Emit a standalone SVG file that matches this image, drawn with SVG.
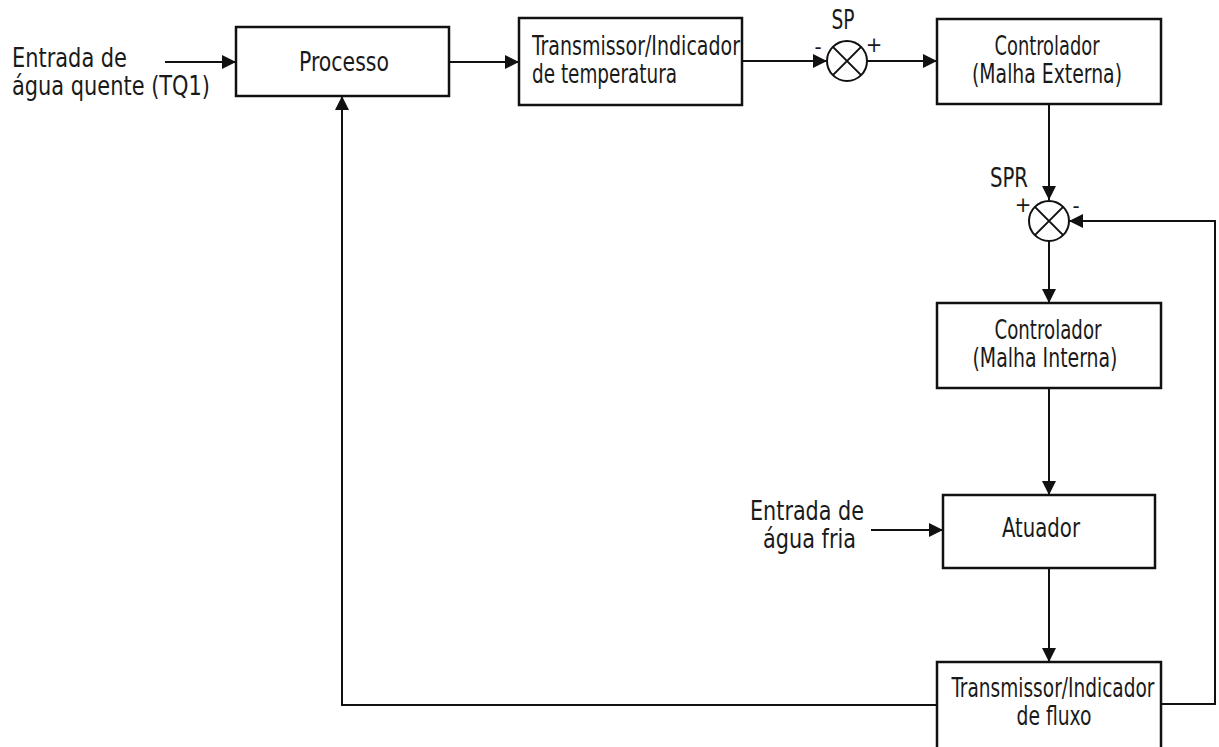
<svg xmlns="http://www.w3.org/2000/svg" width="1219" height="747" viewBox="0 0 1219 747">
  <style>
    .box { fill: #fff; stroke: #111; stroke-width: 2.5; }
    .sum { fill: #fff; stroke: #111; stroke-width: 2; }
    .wire { fill: none; stroke: #111; stroke-width: 2; }
    .arrow { fill: none; stroke: #111; stroke-width: 2; marker-end: url(#head); }
    text { font-family: "Liberation Sans Narrow", "DejaVu Sans Condensed", "Liberation Sans", sans-serif; font-size: 26px; fill: #1a1a1a; }
    .c { text-anchor: middle; }
    .sign { font-size: 22px; }
  </style>
  <defs>
    <marker id="head" viewBox="0 0 14 14" refX="14" refY="7" markerWidth="14" markerHeight="14" markerUnits="userSpaceOnUse" orient="auto">
      <path d="M0,0 L14,7 L0,14 Z" fill="#111"/>
    </marker>
  </defs>

  <!-- connectors -->
  <g id="connectors">
    <line class="arrow" x1="165" y1="62" x2="236" y2="62"/>
    <line class="arrow" x1="449" y1="62" x2="519" y2="62"/>
    <line class="arrow" x1="742" y1="61" x2="827" y2="61"/>
    <line class="arrow" x1="867" y1="61" x2="937" y2="61"/>
    <line class="arrow" x1="1049" y1="104" x2="1049" y2="200"/>
    <line class="arrow" x1="1049" y1="240" x2="1049" y2="303"/>
    <line class="arrow" x1="1049" y1="388" x2="1049" y2="495"/>
    <line class="arrow" x1="871" y1="530" x2="943" y2="530"/>
    <line class="arrow" x1="1049" y1="568" x2="1049" y2="662"/>
    <polyline class="arrow" points="1161,704 1215,704 1215,221 1069,221"/>
    <polyline class="arrow" points="937,705 342,705 342,96"/>
  </g>

  <!-- inputs -->
  <g id="hot-water-input">
    <text x="12" y="67" textLength="115" lengthAdjust="spacingAndGlyphs">Entrada de</text>
    <text x="12" y="95" textLength="198" lengthAdjust="spacingAndGlyphs">água quente (TQ1)</text>
  </g>
  <g id="cold-water-input">
    <text x="750" y="520" textLength="114" lengthAdjust="spacingAndGlyphs">Entrada de</text>
    <text x="763" y="548" textLength="93" lengthAdjust="spacingAndGlyphs">água fria</text>
  </g>

  <g id="processo">
    <rect class="box" x="236" y="27" width="213" height="69"/>
    <text class="c" x="344" y="71" textLength="90" lengthAdjust="spacingAndGlyphs">Processo</text>
  </g>

  <g id="transmissor-temperatura">
    <rect class="box" x="519" y="18" width="223" height="87"/>
    <text x="532" y="55" textLength="208" lengthAdjust="spacingAndGlyphs">Transmissor/Indicador</text>
    <text x="532" y="83" textLength="145" lengthAdjust="spacingAndGlyphs">de temperatura</text>
  </g>

  <g id="soma-sp">
    <circle class="sum" cx="847" cy="61" r="20"/>
    <path class="wire" d="M832.9,46.9 L861.1,75.1 M861.1,46.9 L832.9,75.1"/>
    <text class="c" x="843" y="29" textLength="23" lengthAdjust="spacingAndGlyphs">SP</text>
    <text class="c sign" x="818" y="54">-</text>
    <text class="c sign" x="874" y="52">+</text>
  </g>

  <g id="controlador-externa">
    <rect class="box" x="937" y="19" width="224" height="85"/>
    <text class="c" x="1047" y="55" textLength="105" lengthAdjust="spacingAndGlyphs">Controlador</text>
    <text class="c" x="1047" y="83" textLength="150" lengthAdjust="spacingAndGlyphs">(Malha Externa)</text>
  </g>

  <g id="soma-spr">
    <circle class="sum" cx="1049" cy="221" r="20"/>
    <path class="wire" d="M1034.9,206.9 L1063.1,235.1 M1063.1,206.9 L1034.9,235.1"/>
    <text class="c" x="1009" y="187" textLength="38" lengthAdjust="spacingAndGlyphs">SPR</text>
    <text class="c sign" x="1023" y="212">+</text>
    <text class="c sign" x="1076" y="213">-</text>
  </g>

  <g id="controlador-interna">
    <rect class="box" x="937" y="303" width="224" height="85"/>
    <text class="c" x="1048" y="339" textLength="107" lengthAdjust="spacingAndGlyphs">Controlador</text>
    <text class="c" x="1045" y="367" textLength="145" lengthAdjust="spacingAndGlyphs">(Malha Interna)</text>
  </g>

  <g id="atuador">
    <rect class="box" x="943" y="495" width="212" height="73"/>
    <text class="c" x="1041" y="537" textLength="78" lengthAdjust="spacingAndGlyphs">Atuador</text>
  </g>

  <g id="transmissor-fluxo">
    <rect class="box" x="937" y="662" width="224" height="100"/>
    <text class="c" x="1053" y="697" textLength="203" lengthAdjust="spacingAndGlyphs">Transmissor/Indicador</text>
    <text class="c" x="1054" y="725" textLength="75" lengthAdjust="spacingAndGlyphs">de fluxo</text>
  </g>
</svg>
